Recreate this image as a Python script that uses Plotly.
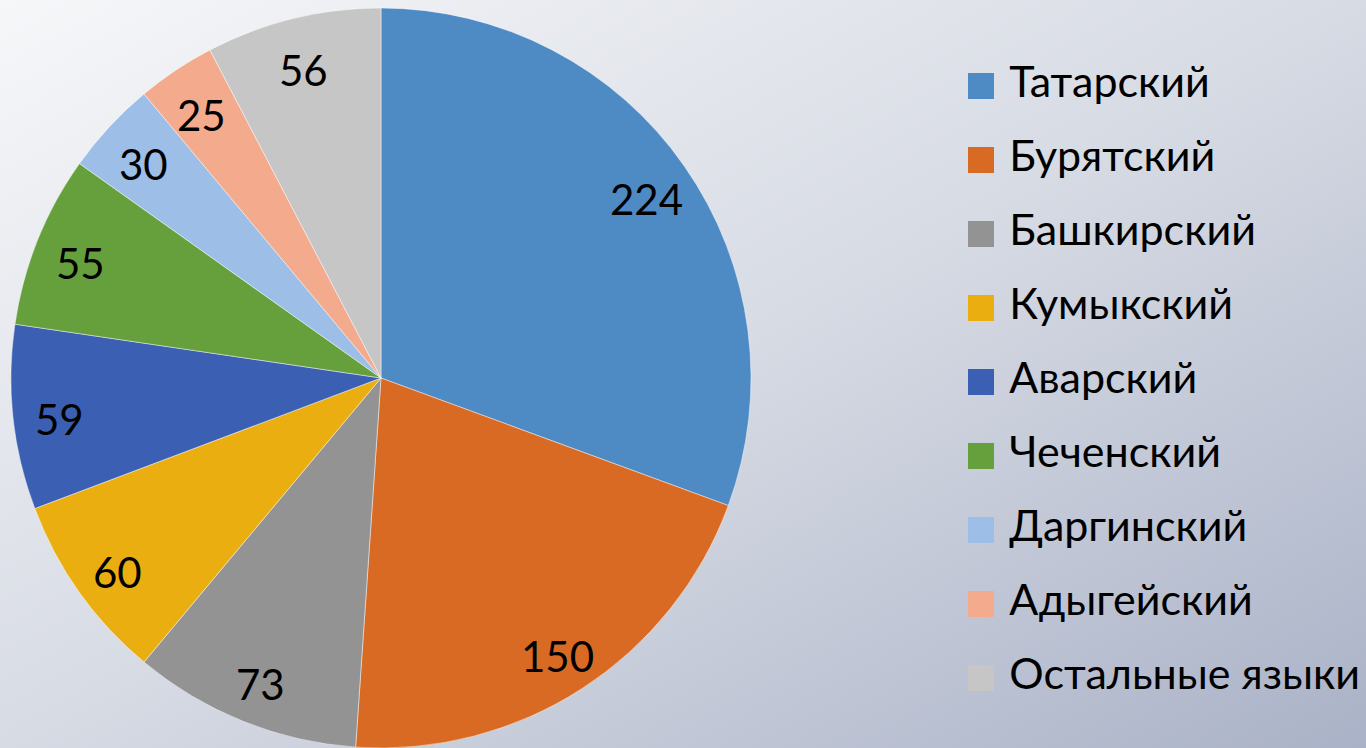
import base64
import math
import plotly.graph_objects as go

# ---- data ----
languages = ["Татарский", "Бурятский", "Башкирский", "Кумыкский", "Аварский",
             "Чеченский", "Даргинский", "Адыгейский", "Остальные языки"]
counts = [224, 150, 73, 60, 59, 55, 30, 25, 56]
colors = ["#4e8ac4", "#d86a23", "#939393", "#eaae10", "#3b5fb3",
          "#66a03c", "#9dbee6", "#f4ab8d", "#c6c6c6"]

W, H = 1366, 748
FONT = "Lato, 'Open Sans', sans-serif"

# pie geometry (pixels)
cx, r = 381, 370
dom_y_top = 2 * r / H
cy_top = (1 - dom_y_top) * H + r  # centre from top in px

fig = go.Figure()

fig.add_trace(go.Pie(
    labels=languages, values=counts, sort=False, direction="clockwise",
    rotation=0, marker=dict(colors=colors, line=dict(color="rgba(255,255,255,0.45)", width=1)),
    textinfo="none", hoverinfo="label+value", showlegend=False,
    domain=dict(x=[(cx - r) / W, (cx + r) / W], y=[0, dom_y_top]),
))

# value labels placed along each slice bisector
total = sum(counts)
cum = 0
annotations = []
for v in counts:
    mid = (cum + v / 2) / total * 2 * math.pi
    cum += v
    px = cx + 0.875 * r * math.sin(mid)
    py = cy_top - 0.875 * r * math.cos(mid)
    annotations.append(dict(x=px / W, y=1 - py / H, xref="paper", yref="paper",
                            xanchor="center", yanchor="middle", yshift=-6,
                            text=str(v), showarrow=False,
                            font=dict(family=FONT, size=42, color="#000000")))

# legend drawn as a scatter column
idx = list(range(len(languages)))
fig.add_trace(go.Scatter(
    x=[981] * len(languages), y=idx, mode="markers+text",
    marker=dict(symbol="square", size=26, color=colors, line=dict(width=0)),
    text=[" " + l for l in languages], textposition="middle right",
    textfont=dict(family=FONT, size=43, color="#000000"),
    hoverinfo="skip", showlegend=False, cliponaxis=False,
))

svg = (f"<svg xmlns='http://www.w3.org/2000/svg' width='{W}' height='{H}' preserveAspectRatio='none'>"
       "<defs><linearGradient id='g' x1='0' y1='0' x2='1' y2='1'>"
       "<stop offset='0' stop-color='#f6f7f9'/><stop offset='0.5' stop-color='#d7dbe4'/>"
       "<stop offset='1' stop-color='#aab2c7'/></linearGradient></defs>"
       f"<rect width='{W}' height='{H}' fill='url(#g)'/></svg>")
src = "data:image/svg+xml;base64," + base64.b64encode(svg.encode()).decode()

fig.update_layout(
    width=W, height=H, margin=dict(l=0, r=0, t=0, b=0),
    paper_bgcolor="#d7dbe4", plot_bgcolor="rgba(0,0,0,0)",
    images=[dict(source=src, xref="paper", yref="paper", x=0, y=1, sizex=1, sizey=1,
                 sizing="stretch", layer="below", xanchor="left", yanchor="top")],
    xaxis=dict(range=[0, W], domain=[0, 1], visible=False, fixedrange=True),
    yaxis=dict(range=[(H - 86) / 74, -86 / 74], domain=[0, 1], visible=False, fixedrange=True),
    annotations=annotations,
    font=dict(family=FONT),
)

fig.write_html("out.html")
